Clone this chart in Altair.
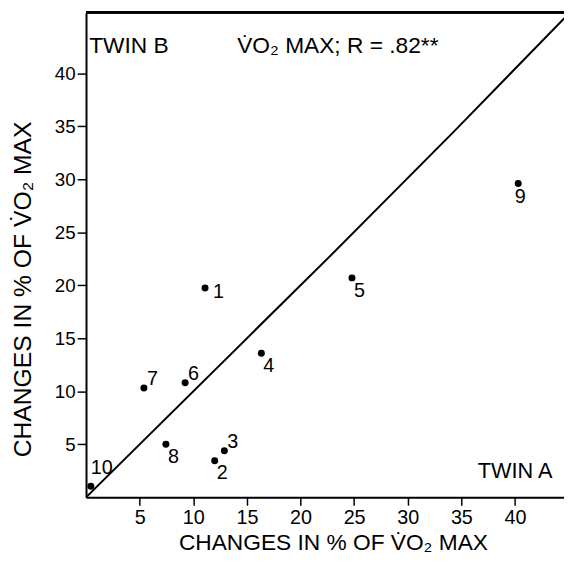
import altair as alt
import pandas as pd

# ---- data ----
twin_ids = ["1", "2", "3", "4", "5", "6", "7", "8", "9", "10"]
twin_a = [11.1, 12.0, 12.9, 16.35, 24.8, 9.24, 5.4, 7.45, 40.3, 0.45]
twin_b = [19.75, 3.45, 4.4, 13.6, 20.7, 10.8, 10.3, 5.0, 29.6, 1.03]

line_x = [0, 23.3, 34.3, 44.6]
line_y = [0, 23.3, 34.5, 45.2]

tick_values = [5, 10, 15, 20, 25, 30, 35, 40]
axis_title = "CHANGES IN % OF V\u0307O\u2082 MAX"
title_text = "V\u0307O\u2082 MAX; R = .82**"
twin_b_text = "TWIN B"
twin_a_text = "TWIN A"

ann_left_text = [twin_b_text, title_text]
ann_left_x = [0.3, 14.1]
ann_left_y = [41.9, 41.9]
ann_right_text = [twin_a_text]
ann_right_x = [43.5]
ann_right_y = [1.8]

FONT = "Liberation Sans"
W, H = 484, 491
XDOM = [0, 44.57]
YDOM = [0, 45.75]

pts = pd.DataFrame({"id": twin_ids, "a": twin_a, "b": twin_b})
line_df = pd.DataFrame({"a": line_x, "b": line_y})
ann_l = pd.DataFrame({"t": ann_left_text, "a": ann_left_x, "b": ann_left_y})
ann_r = pd.DataFrame({"t": ann_right_text, "a": ann_right_x, "b": ann_right_y})

xs = alt.Scale(domain=XDOM, nice=False, zero=False)
ys = alt.Scale(domain=YDOM, nice=False, zero=False)

xaxis = alt.Axis(values=tick_values, title=axis_title, titleFontSize=23,
                 titleX=250, titleY=53, titleBaseline="alphabetic",
                 labelFontSize=20, labelPadding=3, tickSize=8)
yaxis = alt.Axis(values=tick_values, title=axis_title, titleFontSize=25,
                 titleAngle=270, titleX=-64, titleY=280, titleBaseline="middle",
                 titleAlign="center",
                 labelFontSize=19, labelPadding=2, tickSize=9)

X = alt.X("a:Q", scale=xs, axis=xaxis)
Y = alt.Y("b:Q", scale=ys, axis=yaxis)
Xn = alt.X("a:Q", scale=xs)
Yn = alt.Y("b:Q", scale=ys)

line = alt.Chart(line_df).mark_line(color="black", strokeWidth=2, clip=True).encode(x=X, y=Y)

dots = alt.Chart(pts).mark_circle(color="black", opacity=1, size=50).encode(x=Xn, y=Yn)

def labels(ids, dx, dy, align="left"):
    return alt.Chart(pts).transform_filter(
        alt.FieldOneOfPredicate(field="id", oneOf=ids)
    ).mark_text(font=FONT, fontSize=20, color="black", align=align,
                baseline="middle", dx=dx, dy=dy).encode(x=Xn, y=Yn, text="id:N")

lab_right = labels(["1"], 8, 4)
lab_below_right = labels(["2", "4", "5", "8"], 2, 13)
lab_above_right = labels(["3", "6", "7"], 3, -9)
lab_10 = labels(["10"], 0, -19)
lab_9 = labels(["9"], 2, 14, align="center")

ann_left = alt.Chart(ann_l).mark_text(font=FONT, fontSize=23, color="black",
                                      align="left", baseline="alphabetic").encode(x=Xn, y=Yn, text="t:N")
ann_right = alt.Chart(ann_r).mark_text(font=FONT, fontSize=22, color="black",
                                       align="right", baseline="alphabetic").encode(x=Xn, y=Yn, text="t:N")

top_border = alt.Chart(pts).mark_rule(color="black", strokeWidth=2).encode(
    x=alt.value(0), x2=alt.value(W), y=alt.value(0))

chart = alt.layer(
    line, dots, lab_right, lab_below_right, lab_above_right, lab_10, lab_9,
    ann_left, ann_right, top_border
).properties(
    width=W, height=H,
    autosize=alt.AutoSizeParams(type="none"),
    padding={"left": 79, "top": 1, "right": 0, "bottom": 54},
    background="white",
).configure_view(stroke=None).configure_axis(
    grid=False, domainColor="black", domainWidth=2, tickColor="black",
    tickWidth=1.5, labelColor="black", titleColor="black",
    labelFont=FONT, titleFont=FONT, titleFontWeight="normal",
)

chart.save("out.html", embed_options={"renderer": "svg", "actions": False})
